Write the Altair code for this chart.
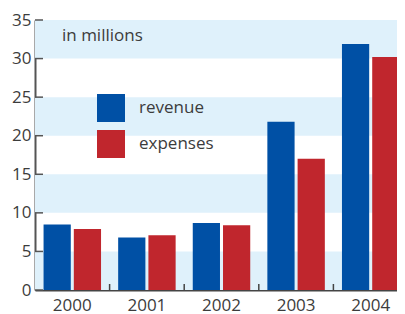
import altair as alt
import pandas as pd

years = ["2000", "2001", "2002", "2003", "2004"]
revenue = [8.5, 6.8, 8.7, 21.8, 31.9]
expenses = [7.9, 7.1, 8.4, 17.0, 30.2]
series = ["revenue", "expenses"]
band_lo = [0, 10, 20, 30]
band_hi = [5, 15, 25, 35]
y_ticks = [0, 5, 10, 15, 20, 25, 30, 35]

W, H = 373, 270
FONT = "Open Sans"
TXT = "#3c3c3c"

rows = []
for i, y in enumerate(years):
    rows.append({"year": y, "series": "revenue", "value": revenue[i]})
    rows.append({"year": y, "series": "expenses", "value": expenses[i]})
df = pd.DataFrame(rows)
bands = pd.DataFrame({"lo": band_lo, "hi": band_hi})
ticks_df = pd.DataFrame({"v": y_ticks})
xt_df = pd.DataFrame({"year": years[1:]})

yscale = alt.Scale(domain=[0, 35], nice=False)
xscale = alt.Scale(domain=years, paddingInner=0, paddingOuter=0)

y_axis = alt.Axis(values=y_ticks, grid=False, ticks=False, tickSize=0,
                  labelOverlap=False, labelPadding=4, labelFontSize=17,
                  labelFont=FONT, labelColor=TXT, title=None,
                  domainColor="#555555", domainWidth=2)
x_axis = alt.Axis(labelAngle=0, ticks=False, tickSize=0, labelPadding=7,
                  labelFontSize=17, labelFont=FONT, labelColor=TXT, title=None,
                  domainColor="#444444", domainWidth=2, grid=False)

band_layer = alt.Chart(bands).mark_rect(color="#dff1fb").encode(
    y=alt.Y("lo:Q", scale=yscale, axis=y_axis, title=None),
    y2="hi:Q",
    x=alt.value(0),
    x2=alt.value(W),
)

bars = alt.Chart(df).mark_bar().encode(
    x=alt.X("year:N", scale=xscale, axis=x_axis, title=None),
    xOffset=alt.XOffset("series:N", sort=series,
                        scale=alt.Scale(paddingInner=0.1, paddingOuter=0.283)),
    y=alt.Y("value:Q", scale=yscale, axis=y_axis, title=None),
    color=alt.Color("series:N", sort=series,
                    scale=alt.Scale(domain=series, range=["#0050a5", "#c0262d"]),
                    legend=alt.Legend(title=None, orient="none", legendX=62, legendY=74,
                                      direction="vertical", symbolType="square",
                                      symbolSize=784, symbolStrokeWidth=0,
                                      symbolOpacity=1, labelFontSize=17,
                                      labelFont=FONT, labelColor=TXT, labelOffset=14,
                                      rowPadding=8, padding=0)),
)

ytick_layer = alt.Chart(ticks_df).mark_rule(color="#555555", strokeWidth=1.5).encode(
    y=alt.Y("v:Q", scale=yscale, axis=y_axis, title=None),
    x=alt.value(0),
    x2=alt.value(8),
)

xtick_layer = alt.Chart(xt_df).mark_rule(color="#444444", strokeWidth=1.5).encode(
    x=alt.X("year:N", scale=xscale, bandPosition=0, axis=x_axis, title=None),
    y=alt.value(H - 6),
    y2=alt.value(H),
)

label = alt.Chart(pd.DataFrame({"t": ["in millions"]})).mark_text(
    align="left", baseline="alphabetic", fontSize=17, font=FONT, color=TXT
).encode(text="t:N", x=alt.value(27), y=alt.value(21))

chart = alt.layer(band_layer, bars, ytick_layer, xtick_layer, label).properties(
    width=W, height=H,
    autosize=alt.AutoSizeParams(type="none"),
    padding={"left": 27, "top": 12, "right": -11, "bottom": 24},
).configure_view(stroke=None).configure_axis(labelOverlap=False)

chart.save("out.html", embed_options={"renderer": "svg", "actions": False})
